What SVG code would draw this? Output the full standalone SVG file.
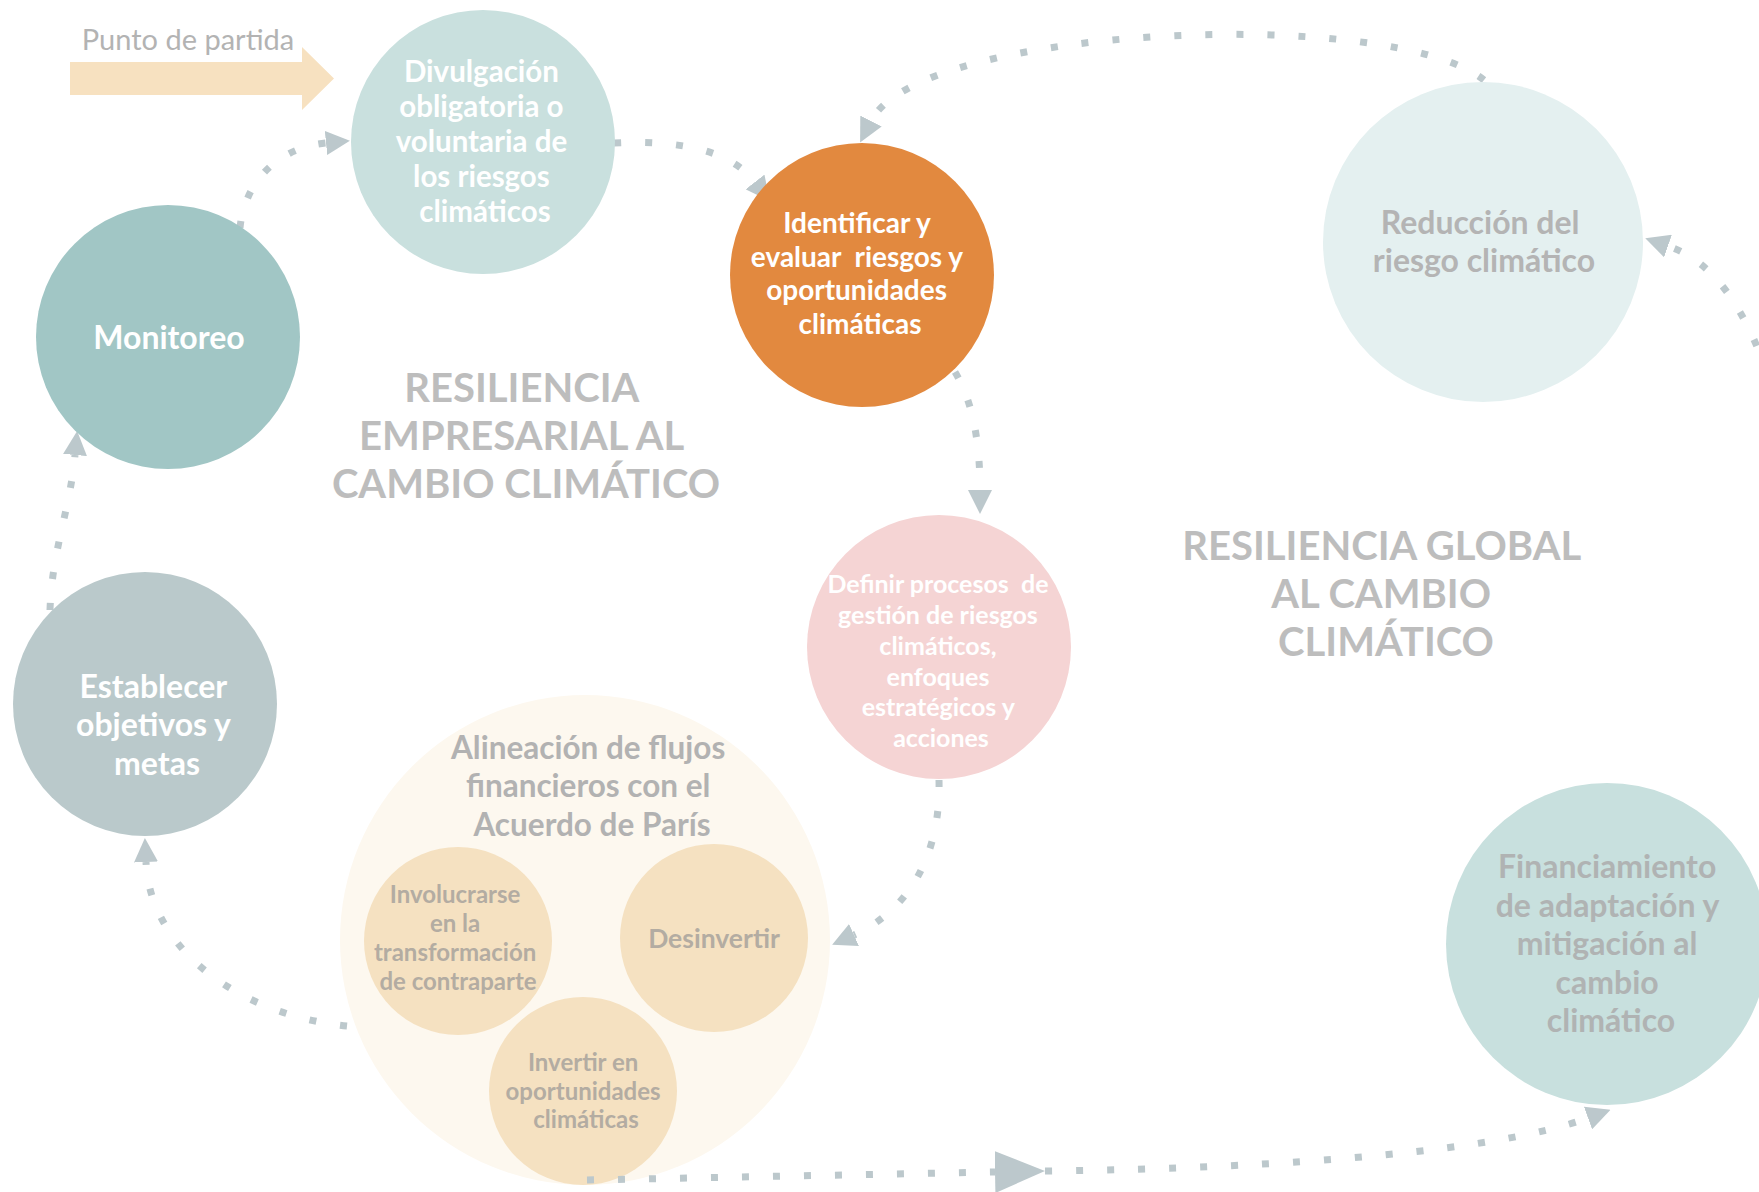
<svg xmlns="http://www.w3.org/2000/svg" width="1759" height="1192" viewBox="0 0 1759 1192">
<style>
  text { font-family: Lato, "Open Sans", "Liberation Sans", sans-serif; text-anchor: middle; font-weight: 700; }
  .w { fill: #ffffff; }
  .g { fill: #b4b4b4; }
  .gs { fill: #b3aca2; }
  .title { fill: #bdbdbd; font-size: 40px; }
  .conn { fill: none; stroke: #bcc8cc; stroke-width: 7; stroke-dasharray: 7 24; }
</style>
<defs>
  <marker id="ah" viewBox="0 0 10 10" refX="0" refY="5" markerWidth="24" markerHeight="24" markerUnits="userSpaceOnUse" orient="auto">
    <path d="M0,0 L10,5 L0,10 Z" fill="#bcc8cc"/>
  </marker>
  <marker id="ahBig" viewBox="0 0 10 10" refX="0" refY="5" markerWidth="50" markerHeight="42" markerUnits="userSpaceOnUse" orient="auto" preserveAspectRatio="none">
    <path d="M0,0 L10,5 L0,10 Z" fill="#bcc8cc"/>
  </marker>
</defs>
<rect width="1759" height="1192" fill="#ffffff"/>

<g id="start">
  <polygon points="70,62 302,62 302,47 334,78.5 302,110 302,95 70,95" fill="#f7e1c0"/>
  <text x="188" y="50" style="font-weight:400;font-size:29px;fill:#b3b3b3">Punto de partida</text>
</g>

<g id="connectors">
  <path class="conn" d="M 240 228 C 244 185, 275 148, 326 143" marker-end="url(#ah)"/>
  <path class="conn" d="M 614 143 C 680 140, 730 150, 755 182" marker-end="url(#ah)"/>
  <path class="conn" d="M 1484 80 C 1390 5, 920 25, 871 121" marker-end="url(#ah)"/>
  <path class="conn" d="M 955 372 C 972 400, 980 440, 980 490" marker-end="url(#ah)"/>
  <path class="conn" d="M 939 780 C 941 860, 905 912, 854 935" marker-end="url(#ah)"/>
  <path class="conn" d="M 347 1026 C 240 1015, 150 950, 146 862" marker-end="url(#ah)"/>
  <path class="conn" d="M 50 610 C 52 550, 70 510, 75 455" marker-end="url(#ah)"/>
  <path class="conn" d="M 1768 375 C 1745 310, 1715 262, 1668 246" marker-end="url(#ah)"/>
</g>

<g id="divulgacion">
  <circle cx="483" cy="142" r="132" fill="#c9e0de"/>
  <text class="w" style="font-size:29.5px">
    <tspan x="485" y="82">Divulgación</tspan>
    <tspan x="485" y="117">obligatoria o</tspan>
    <tspan x="485" y="152">voluntaria de</tspan>
    <tspan x="485" y="187">los riesgos</tspan>
    <tspan x="485" y="222">climáticos</tspan>
  </text>
</g>

<g id="identificar">
  <circle cx="862" cy="275" r="132" fill="#e2893f"/>
  <text class="w" style="font-size:28px">
    <tspan x="860" y="233">Identificar y</tspan>
    <tspan x="860" y="267">evaluar&#160; riesgos y</tspan>
    <tspan x="860" y="300">oportunidades</tspan>
    <tspan x="860" y="334">climáticas</tspan>
  </text>
</g>

<g id="monitoreo">
  <circle cx="168" cy="337" r="132" fill="#a1c6c5"/>
  <text class="w" x="169" y="349" style="font-size:32px">Monitoreo</text>
</g>

<g id="establecer">
  <circle cx="145" cy="704" r="132" fill="#bac9cb"/>
  <text class="w" style="font-size:32px">
    <tspan x="157" y="698">Establecer</tspan>
    <tspan x="157" y="736">objetivos y</tspan>
    <tspan x="157" y="775">metas</tspan>
  </text>
</g>

<g id="definir">
  <circle cx="939" cy="647" r="132" fill="#f5d4d4"/>
  <text class="w" style="font-size:25px">
    <tspan x="941" y="593">Definir procesos&#160; de</tspan>
    <tspan x="941" y="624">gestión de riesgos</tspan>
    <tspan x="941" y="655">climáticos,</tspan>
    <tspan x="941" y="686">enfoques</tspan>
    <tspan x="941" y="716">estratégicos y</tspan>
    <tspan x="941" y="747">acciones</tspan>
  </text>
</g>

<g id="reduccion">
  <circle cx="1483" cy="242" r="160" fill="#e4f0f0"/>
  <text class="g" style="font-size:32px">
    <tspan x="1484" y="234">Reducción del</tspan>
    <tspan x="1484" y="272">riesgo climático</tspan>
  </text>
</g>

<g id="financiamiento">
  <circle cx="1607" cy="944" r="161" fill="#c8e0de"/>
  <text class="g" style="font-size:32px;fill:#b0b3b3">
    <tspan x="1611" y="878">Financiamiento</tspan>
    <tspan x="1611" y="917">de adaptación y</tspan>
    <tspan x="1611" y="955">mitigación al</tspan>
    <tspan x="1611" y="994">cambio</tspan>
    <tspan x="1611" y="1032">climático</tspan>
  </text>
</g>

<g id="titulo-empresarial">
  <text class="title">
    <tspan x="526" y="402">RESILIENCIA</tspan>
    <tspan x="526" y="450">EMPRESARIAL AL</tspan>
    <tspan x="526" y="498">CAMBIO CLIMÁTICO</tspan>
  </text>
</g>

<g id="titulo-global">
  <text class="title">
    <tspan x="1386" y="560">RESILIENCIA GLOBAL</tspan>
    <tspan x="1386" y="608">AL CAMBIO</tspan>
    <tspan x="1386" y="656">CLIMÁTICO</tspan>
  </text>
</g>

<g id="alineacion">
  <circle cx="585" cy="940" r="245" fill="#fdf8ef"/>
  <text class="g" style="font-size:31.5px;fill:#b2b2b2">
    <tspan x="592" y="759">Alineación de flujos</tspan>
    <tspan x="592" y="797">financieros con el</tspan>
    <tspan x="592" y="836">Acuerdo de París</tspan>
  </text>
</g>

<g id="involucrarse">
  <circle cx="458" cy="941" r="94" fill="#f5e1c1"/>
  <text class="gs" style="font-size:24px">
    <tspan x="458" y="903">Involucrarse</tspan>
    <tspan x="458" y="932">en la</tspan>
    <tspan x="458" y="961">transformación</tspan>
    <tspan x="458" y="990">de contraparte</tspan>
  </text>
</g>

<g id="desinvertir">
  <circle cx="714" cy="938" r="94" fill="#f5e1c1"/>
  <text class="gs" x="714" y="948" style="font-size:26.5px">Desinvertir</text>
</g>

<g id="invertir">
  <circle cx="583" cy="1091" r="94" fill="#f5e1c1"/>
  <text class="gs" style="font-size:24px">
    <tspan x="586" y="1071">Invertir en</tspan>
    <tspan x="586" y="1100">oportunidades</tspan>
    <tspan x="586" y="1128">climáticas</tspan>
  </text>
</g>

<g id="connectors-bottom">
  <path class="conn" d="M 587 1180 L 995 1172" marker-end="url(#ahBig)"/>
  <path class="conn" d="M 1045 1171 C 1300 1168, 1500 1150, 1588 1118" marker-end="url(#ah)"/>
</g>
</svg>
